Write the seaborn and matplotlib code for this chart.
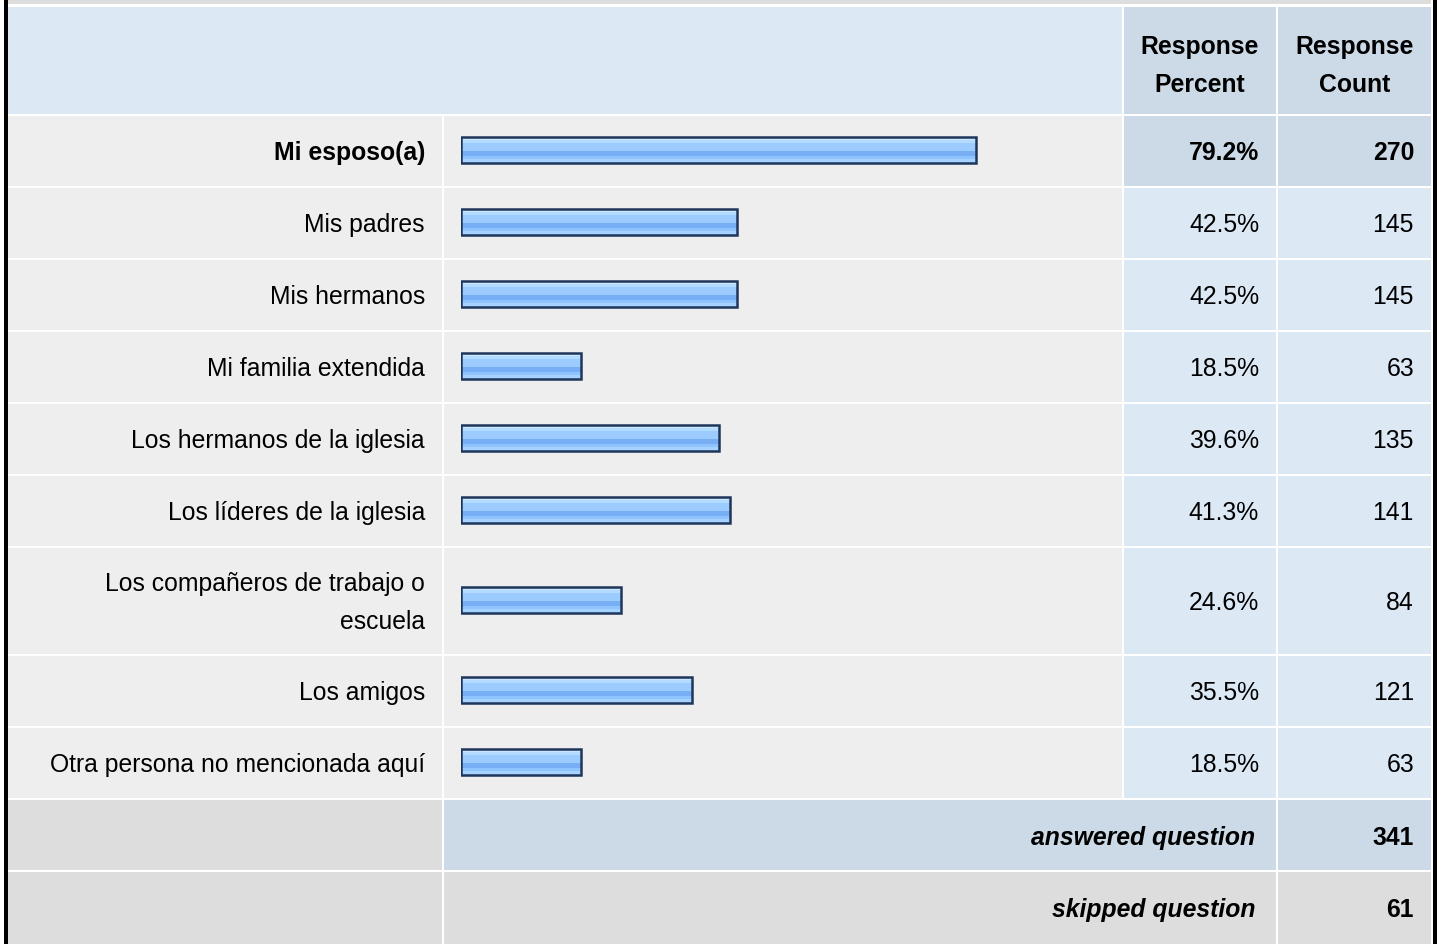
import numpy as np
import pandas as pd
import matplotlib
matplotlib.use("Agg")
import matplotlib.pyplot as plt
from matplotlib.patches import Rectangle
from matplotlib.colors import to_rgb
import seaborn as sns

# ---------------- data ----------------
categories = ["Mi esposo(a)", "Mis padres", "Mis hermanos", "Mi familia extendida",
              "Los hermanos de la iglesia", "Los líderes de la iglesia",
              "Los compañeros de trabajo o\nescuela", "Los amigos",
              "Otra persona no mencionada aquí"]
percents = [79.2, 42.5, 42.5, 18.5, 39.6, 41.3, 24.6, 35.5, 18.5]
counts = [270, 145, 145, 63, 135, 141, 84, 121, 63]
header_labels = ["Response\nPercent", "Response\nCount"]
summary_labels = ["answered question", "skipped question"]
summary_values = [341, 61]

# ---------------- layout ----------------
W, H = 1440, 945
sns.set_theme(style="white")
plt.rcParams["font.family"] = ["Liberation Sans", "DejaVu Sans"]
FS = 17.8
TXT = "#000000"

fig = plt.figure(figsize=(W / 100, H / 100), dpi=100, facecolor="white")
bg = fig.add_axes([0, 0, 1, 1])
bg.set_xlim(0, W)
bg.set_ylim(H, 0)
bg.axis("off")

# column edges
cL = (8, 442)
cB = (444, 1122)
cP = (1124, 1276)
cC = (1278, 1431)
# row extents
header = (8, 115)
row_heights = [70, 70, 70, 70, 70, 70, 106, 70, 70]
rows = []
top = 117
for h in row_heights:
    rows.append((top, top + h))
    top += h + 2
ans_row = (top, top + 70)
skp_row = (top + 72, H)

LIGHT = "#eeeeee"
BLUE1 = "#dde8f5"
BLUE2 = "#ccd9e6"
GREY = "#dddddd"


def cell(xr, yr, color):
    bg.add_patch(Rectangle((xr[0], yr[0]), xr[1] - xr[0], yr[1] - yr[0],
                           facecolor=color, edgecolor="none", zorder=1))


# top strip
cell((8, 1431), (0, 5), GREY)
# header
cell((8, 1122), header, BLUE1)
cell(cP, header, BLUE2)
cell(cC, header, BLUE2)
for i, (r0, r1) in enumerate(rows):
    cell(cL, (r0, r1), LIGHT)
    cell(cB, (r0, r1), LIGHT)
    c = BLUE2 if i == 0 else BLUE1
    cell(cP, (r0, r1), c)
    cell(cC, (r0, r1), c)
cell(cL, ans_row, GREY)
cell((444, 1276), ans_row, BLUE2)
cell(cC, ans_row, BLUE2)
cell(cL, skp_row, GREY)
cell((444, 1276), skp_row, GREY)
cell(cC, skp_row, GREY)
# outer black borders
bg.add_patch(Rectangle((4, 0), 4, H, facecolor="black", edgecolor="none", zorder=3))
bg.add_patch(Rectangle((1433, 0), 4, H, facecolor="black", edgecolor="none", zorder=3))

# header text
for lab, xr in zip(header_labels, [cP, cC]):
    bg.text((xr[0] + xr[1]) / 2, (header[0] + header[1]) / 2 + 4.5, lab, ha="center",
            va="center", fontsize=FS, fontweight="bold", color=TXT,
            linespacing=1.72, zorder=4)

# row text
for i, (r0, r1) in enumerate(rows):
    yc = (r0 + r1) / 2 + 1
    w = "bold" if i == 0 else "normal"
    bg.text(425, yc, categories[i], ha="right", va="center", fontsize=FS,
            fontweight=w, color=TXT, linespacing=1.75, zorder=4)
    bg.text(1259, yc, f"{percents[i]:.1f}%", ha="right", va="center", fontsize=FS,
            fontweight=w, color=TXT, zorder=4)
    bg.text(1414, yc, f"{counts[i]}", ha="right", va="center", fontsize=FS,
            fontweight=w, color=TXT, zorder=4)

for lab, val, rr in zip(summary_labels, summary_values, [ans_row, skp_row]):
    yc = (rr[0] + rr[0] + 70) / 2 + 2
    bg.text(1255, yc, lab, ha="right", va="center", fontsize=FS,
            fontweight="bold", style="italic", color=TXT, zorder=4)
    bg.text(1414, yc, f"{val}", ha="right", va="center", fontsize=FS,
            fontweight="bold", color=TXT, zorder=4)

# ---------------- bars ----------------
bar_x0 = 461.2
px_per_pct = 6.5
bax = fig.add_axes([bar_x0 / W, 0, 100 * px_per_pct / W, 1])
bax.patch.set_alpha(0)
bar_centers = [(r0 + r1) / 2 - 1 for r0, r1 in rows]
min_gap = np.min(np.diff(bar_centers))
bar_thick = 25.5
df = pd.DataFrame({"pct": percents, "ypos": bar_centers})
sns.barplot(data=df, x="pct", y="ypos", orient="h", native_scale=True,
            width=bar_thick / min_gap, color="#99ccff", edgecolor="#1e3659",
            linewidth=1.8, errorbar=None, ax=bax)
bax.set_xlim(0, 100)
bax.set_ylim(H, 0)
bax.axis("off")

grad_hex = (["#c9e6ff"] * 3 + ["#b3dbff"] * 3 + ["#9ccbff"] * 7 +
            ["#78aef4"] * 5 + ["#8fc4ff"] * 3 + ["#a5d2ff"] * 4)
grad = np.array([to_rgb(c) for c in grad_hex])[:, None, :]
for p in list(bax.patches):
    x0, y0, w, h = p.get_x(), p.get_y(), p.get_width(), p.get_height()
    im = bax.imshow(grad, extent=[x0, x0 + w, y0 + h, y0], origin="upper",
                    aspect="auto", interpolation="nearest", zorder=p.get_zorder() - 0.1)
    im.set_clip_path(p)
    p.set_facecolor("none")
bax.set_xlim(0, 100)
bax.set_ylim(H, 0)

fig.savefig("out.png", dpi=100, facecolor="white")
